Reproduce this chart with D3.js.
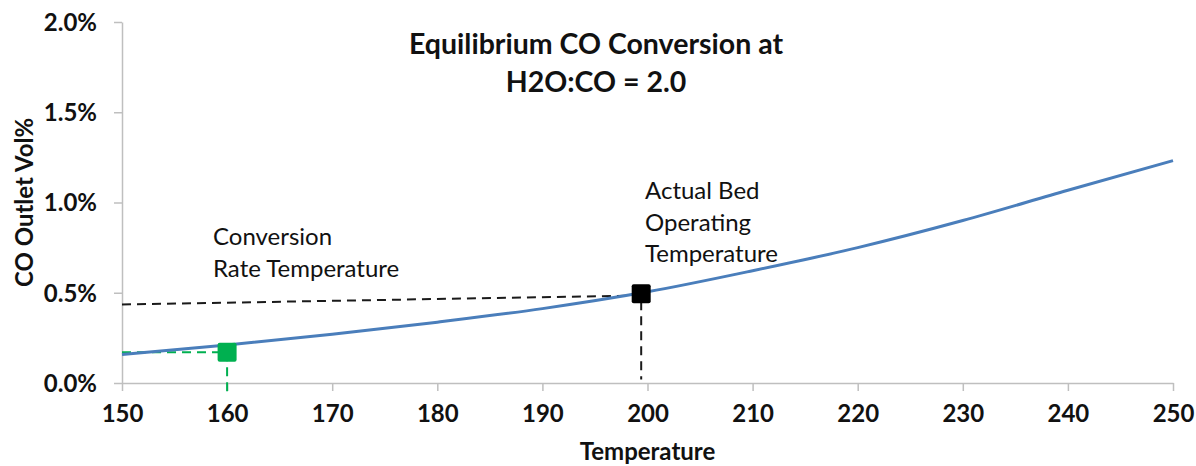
<!doctype html>
<html lang="en">
<head>
    <meta charset="utf-8">
    <title>Equilibrium CO Conversion</title>
    <script src="https://cdnjs.cloudflare.com/ajax/libs/d3/7.8.5/d3.min.js"></script>
    <style>
        body { margin: 0; background: #fff; }
        #chart text { font-family: Lato, "Open Sans", sans-serif; fill: #111; }
        #chart .tick text { font-size: 24px; font-weight: 700; }
        #chart .domain, #chart .tick line { stroke: #bfbfbf; stroke-width: 1.5px; }
    </style>
</head>
<body>
<div id="chart"></div>
<script>
    // equilibrium curve
    var temps = [150, 160, 170, 180, 190, 200, 210, 220, 230, 240, 250];
    var coPct = [0.158, 0.21, 0.27, 0.337, 0.412, 0.505, 0.622, 0.75, 0.9, 1.068, 1.232];

    var xTicks = [150, 160, 170, 180, 190, 200, 210, 220, 230, 240, 250];
    var yTicks = [0, 0.5, 1.0, 1.5, 2.0];

    // the two marked points
    var greenPoint = [160, 0.17];
    var blackPoint = [199.4, 0.495];

    // dashed guide lines
    var greenGuide = [[150, 0.17], [160, 0.17], [160, -0.05]];
    var blackGuide = [[150, 0.435], [199.4, 0.485], [199.4, 0.02]];

    var titleLines = ["Equilibrium CO Conversion at", "H2O:CO = 2.0"];
    var noteLeft = ["Conversion", "Rate Temperature"];
    var noteRight = ["Actual Bed", "Operating", "Temperature"];

    var width = 1196, height = 466;
    var margin = {top: 22, right: 23, bottom: 83, left: 122};

    var x = d3.scaleLinear()
        .domain([150, 250])
        .range([margin.left, width - margin.right]);

    var y = d3.scaleLinear()
        .domain([0, 2])
        .range([height - margin.bottom, margin.top]);

    var svg = d3.select("#chart")
        .append("svg")
        .attr("width", width)
        .attr("height", height);

    svg.append("g")
        .attr("transform", "translate(0," + y(0) + ")")
        .call(d3.axisBottom(x).tickValues(xTicks).tickSize(8).tickPadding(11).tickSizeOuter(0))
        .selectAll(".tick text").attr("dy", "0.85em");

    svg.append("g")
        .attr("transform", "translate(" + x(150) + ",0)")
        .call(d3.axisLeft(y).tickValues(yTicks).tickSize(8).tickPadding(17).tickSizeOuter(0)
            .tickFormat(function(d) { return d.toFixed(1) + "%"; }))
        .selectAll(".tick text").attr("dy", "0.35em");

    var line = d3.line()
        .x(function(d) { return x(d[0]); })
        .y(function(d) { return y(d[1]); });

    // dashed guides
    svg.append("path")
        .attr("d", line(blackGuide))
        .attr("fill", "none")
        .attr("stroke", "#1a1a1a")
        .attr("stroke-width", 2)
        .attr("stroke-dasharray", "9,6");

    svg.append("path")
        .attr("d", line(greenGuide))
        .attr("fill", "none")
        .attr("stroke", "#00b050")
        .attr("stroke-width", 2)
        .attr("stroke-dasharray", "9,6");

    // curve
    svg.append("path")
        .attr("d", line.curve(d3.curveMonotoneX)(temps.map(function(t, i) { return [t, coPct[i]]; })))
        .attr("fill", "none")
        .attr("stroke", "#4a7ebb")
        .attr("stroke-width", 3);

    var s = 19;
    svg.append("rect")
        .attr("x", x(greenPoint[0]) - s / 2)
        .attr("y", y(greenPoint[1]) - s / 2)
        .attr("width", s).attr("height", s)
        .attr("rx", 2)
        .attr("fill", "#00b050");

    svg.append("rect")
        .attr("x", x(blackPoint[0]) - s / 2)
        .attr("y", y(blackPoint[1]) - s / 2)
        .attr("width", s).attr("height", s)
        .attr("rx", 2)
        .attr("fill", "#000");

    // title
    svg.append("text")
        .attr("y", 54)
        .attr("text-anchor", "middle")
        .style("font-size", "28.5px")
        .style("font-weight", 700)
        .selectAll("tspan")
        .data(titleLines)
        .enter().append("tspan")
        .attr("x", 596)
        .attr("dy", function(d, i) { return i ? 38 : 0; })
        .text(function(d) { return d; });

    // annotations
    svg.append("text")
        .attr("y", 245)
        .style("font-size", "24px")
        .selectAll("tspan")
        .data(noteLeft)
        .enter().append("tspan")
        .attr("x", 213)
        .attr("dy", function(d, i) { return i ? 32 : 0; })
        .text(function(d) { return d; });

    svg.append("text")
        .attr("y", 199)
        .style("font-size", "24px")
        .selectAll("tspan")
        .data(noteRight)
        .enter().append("tspan")
        .attr("x", 645)
        .attr("dy", function(d, i) { return i ? 31.5 : 0; })
        .text(function(d) { return d; });

    // axis titles
    svg.append("text")
        .attr("x", (x(150) + x(250)) / 2)
        .attr("y", 460)
        .attr("text-anchor", "middle")
        .style("font-size", "24px")
        .style("font-weight", 700)
        .text("Temperature");

    svg.append("text")
        .attr("transform", "translate(33," + (y(0) + y(2)) / 2 + ") rotate(-90)")
        .attr("text-anchor", "middle")
        .style("font-size", "24px")
        .style("font-weight", 700)
        .text("CO Outlet Vol%");
</script>
</body>
</html>
